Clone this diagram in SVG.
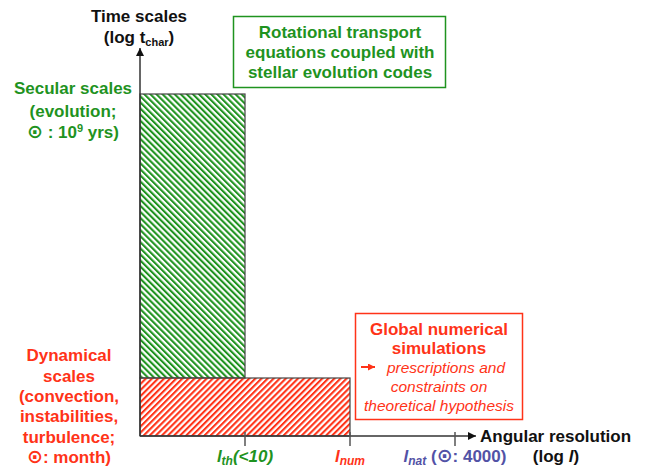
<svg xmlns="http://www.w3.org/2000/svg" width="649" height="468" viewBox="0 0 649 468">
<style>
text{font-family:"Liberation Sans",Arial,"DejaVu Sans",sans-serif;font-weight:bold;font-size:17px;text-anchor:middle}
text.st{text-anchor:start}
.g{fill:#1f931f}
.r{fill:#ff3318}
.b{fill:#5252a6}
.k{fill:#111}
.it{font-style:italic;font-weight:normal;font-size:15.5px}
.sun{font-size:19px}
.ax{stroke:#333;stroke-width:1.5;fill:none}
.tk{stroke:#555;stroke-width:1.5}
</style>
<defs>
<pattern id="hg" width="4.3" height="10" patternUnits="userSpaceOnUse" patternTransform="rotate(-45)">
<rect width="2.1" height="10" fill="#1f931f"/>
</pattern>
<pattern id="hr" width="4.3" height="10" patternUnits="userSpaceOnUse" patternTransform="rotate(45)">
<rect width="2.1" height="10" fill="#ff3318"/>
</pattern>
<marker id="ah" viewBox="0 0 10 10" refX="10" refY="5" markerWidth="8" markerHeight="8" markerUnits="userSpaceOnUse" orient="auto">
<path d="M0,0 L10,5 L0,10 z" fill="#111"/>
</marker>
<marker id="ahr" viewBox="0 0 10 10" refX="10" refY="5" markerWidth="7" markerHeight="7" markerUnits="userSpaceOnUse" orient="auto">
<path d="M0,0 L10,5 L0,10 z" fill="#ff3318"/>
</marker>
</defs>

<g id="secular-bar">
<rect x="140" y="94" width="105" height="284" fill="url(#hg)" stroke="#444" stroke-width="1.2"/>
</g>
<g id="dynamical-bar">
<rect x="140" y="378" width="210" height="58" fill="url(#hr)" stroke="#444" stroke-width="1.2"/>
</g>

<g id="connectors">
<line class="ax" x1="140" y1="436" x2="140" y2="48" marker-end="url(#ah)"/>
<line class="ax" x1="140" y1="436" x2="476" y2="436" marker-end="url(#ah)"/>
<line class="tk" x1="245" y1="432" x2="245" y2="446"/>
<line class="tk" x1="350" y1="432" x2="350" y2="446"/>
<line class="tk" x1="455" y1="432" x2="455" y2="446"/>
</g>

<g id="y-axis-label">
<text class="k" x="139" y="22">Time scales</text>
<text class="k" x="139" y="43">(log t<tspan font-size="11" dy="3">char</tspan><tspan dy="-3">)</tspan></text>
</g>

<g id="secular-label">
<text class="g" x="73" y="94">Secular scales</text>
<text class="g" x="73" y="117">(evolution;</text>
<text class="g" x="73" y="138"><tspan class="sun">⊙</tspan> : 10<tspan font-size="11" dy="-6">9</tspan><tspan dy="6"> yrs)</tspan></text>
</g>

<g id="rotational-box">
<rect x="233.5" y="16.5" width="212" height="71" fill="#fff" stroke="#1f931f" stroke-width="1.5"/>
<text class="g" x="340" y="38">Rotational transport</text>
<text class="g" x="340" y="58">equations coupled with</text>
<text class="g" x="340" y="78">stellar evolution codes</text>
</g>

<g id="global-box">
<rect x="355.5" y="313.5" width="167" height="106" fill="#fff" stroke="#ff3318" stroke-width="1.5"/>
<text class="r" x="439" y="335">Global numerical</text>
<text class="r" x="439" y="354">simulations</text>
<line x1="361" y1="367" x2="375" y2="367" stroke="#ff3318" stroke-width="2" marker-end="url(#ahr)"/>
<text class="r it" x="446" y="373">prescriptions and</text>
<text class="r it" x="439" y="392">constraints on</text>
<text class="r it" x="439" y="411">theoretical hypothesis</text>
</g>

<g id="dynamical-label">
<text class="r" x="69" y="361">Dynamical</text>
<text class="r" x="69" y="382">scales</text>
<text class="r" x="69" y="402">(convection,</text>
<text class="r" x="69" y="422">instabilities,</text>
<text class="r" x="69" y="443">turbulence;</text>
<text class="r" x="69" y="463"><tspan class="sun">⊙</tspan>: month)</text>
</g>

<g id="x-axis-labels">
<text class="g" x="245" y="462" font-style="italic">l<tspan font-size="12" dy="3">th</tspan><tspan dy="-3">(&lt;10)</tspan></text>
<text class="r" x="350" y="462" font-style="italic">l<tspan font-size="12" dy="3">num</tspan></text>
<text class="b" x="455" y="462"><tspan font-style="italic">l</tspan><tspan font-size="12" font-style="italic" dy="3">nat</tspan><tspan dy="-3"> (</tspan><tspan class="sun">⊙</tspan>: 4000)</text>
<text class="k st" x="480" y="442">Angular resolution</text>
<text class="k" x="556" y="462">(log <tspan font-style="italic">l</tspan>)</text>
</g>
</svg>
